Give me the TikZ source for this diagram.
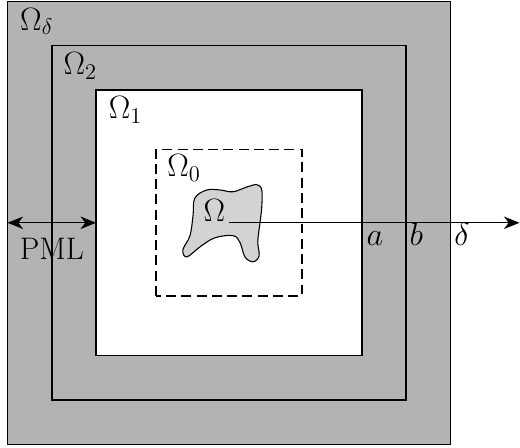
\documentclass[tikz,border=0pt]{standalone}
\usepackage{amsmath,amssymb}
\usepackage{tikz}
\usetikzlibrary{arrows.meta,positioning,calc}
\definecolor{LayerGray}{HTML}{B3B3B3}
\definecolor{ScatGray}{HTML}{D3D3D3}

\begin{document}
\begin{tikzpicture}[
    region/.style={draw=black,line width=0.9pt},
    lbl/.style={anchor=base west,inner sep=0pt,font=\fontsize{20}{24}\selectfont},
    tip/.style={-{Stealth[length=10pt,width=8pt,inset=3pt]}},
    ray/.style={line width=0.9pt,tip}
  ]
  \useasboundingbox (-5.17,-5.08) rectangle (6.57,5.03);
  % layers
  \draw[region,fill=LayerGray] (-5,-5) rectangle (5,5);
  \draw[region,fill=LayerGray] (-4,-4) rectangle (4,4);
  \draw[region,fill=white]     (-3,-3) rectangle (3,3);
  \draw[region,dash pattern=on 6.4pt off 3.4pt] (-1.65,-1.65) rectangle (1.65,1.65);
  % scatterer
  \draw[line width=0.7pt,fill=ScatGray] plot[smooth cycle,tension=0.6] coordinates {
      (-0.77,0.56) (-0.50,0.74) (-0.20,0.74) (0.09,0.70) (0.41,0.81) (0.63,0.86)
      (0.74,0.74) (0.74,0.36) (0.70,0) (0.65,-0.43) (0.68,-0.75) (0.54,-0.88)
      (0.36,-0.77) (0.25,-0.45) (0.09,-0.29) (-0.32,-0.34) (-0.65,-0.54)
      (-0.95,-0.77) (-1.04,-0.61) (-0.88,-0.29) (-0.81,0.18)};
  % labels
  \node[lbl] (Od) at (-4.72,4.35)  {$\Omega_\delta$};
  \node[lbl] (O2) at (-3.74,3.35)  {$\Omega_2$};
  \node[lbl] (O1) at (-2.72,2.35)  {$\Omega_1$};
  \node[lbl] (O0) at (-1.40,1.04)  {$\Omega_0$};
  \node[lbl] (Om) at (-0.58,0.02)  {$\Omega$};
  \node[lbl] (a)  at (3.10,-0.52)  {$a$};
  \node[lbl] (b)  at (4.07,-0.52)  {$b$};
  \node[lbl] (d)  at (5.08,-0.52)  {$\delta$};
  % ray and PML width
  \coordinate (C)   at (0,0);
  \coordinate (end) at (6.56,0);
  \coordinate (pl)  at (-5,0);
  \coordinate (pr)  at (-3,0);
  \draw[ray] (C) -- (end);
  \draw[ray,{Stealth[length=10pt,width=8pt,inset=3pt]}-{Stealth[length=10pt,width=8pt,inset=3pt]}] (pl) -- (pr);
  \node[anchor=base,inner sep=0pt,font=\fontsize{20}{24}\selectfont] (pml) at (-4,-0.84) {PML};
\end{tikzpicture}
\end{document}
